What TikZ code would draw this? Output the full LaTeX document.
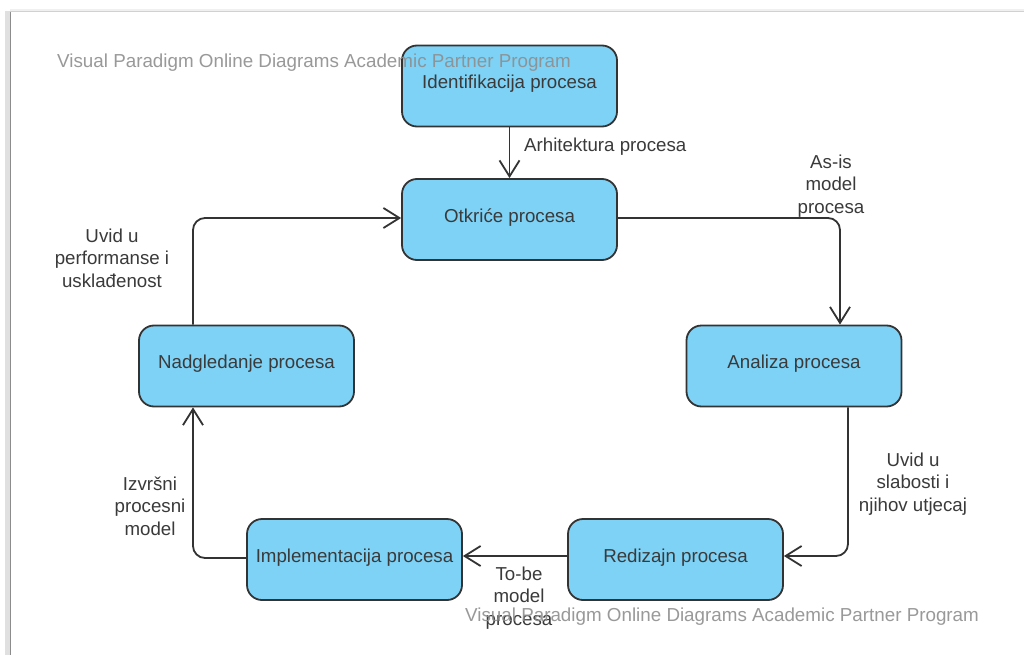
\documentclass[tikz,border=0pt]{standalone}
\usepackage{fontspec}
\setmainfont{Liberation Sans}
\usetikzlibrary{arrows.meta}
\definecolor{boxblue}{HTML}{7ED2F6}
\definecolor{edgegrey}{HTML}{333333}
\definecolor{inkgrey}{HTML}{3A3A3A}
\definecolor{markgrey}{HTML}{8E8E8E}
\tikzset{
  stepbox/.style={rectangle, rounded corners=15pt, fill=boxblue, draw=edgegrey,
    line width=1.8pt, minimum width=215pt, minimum height=81pt, inner sep=0pt,
    text=inkgrey, font=\fontsize{18.7}{22.5}\selectfont},
  flow/.style={draw=edgegrey, line width=1.8pt, rounded corners=12pt,
    -{Straight Barb[length=16pt,width=20pt,line width=1.8pt]}},
  flowlabel/.style={text=inkgrey, font=\fontsize{18.7}{22.5}\selectfont,
    align=center, inner sep=0pt},
  watermark/.style={text=markgrey, font=\fontsize{18.8}{22.5}\selectfont,
    anchor=west, inner sep=0pt, opacity=0.9}
}
\newcommand{\boxtext}[1]{\raisebox{8pt}{#1}}
\begin{document}
\begin{tikzpicture}[x=1pt,y=-1pt]
  \useasboundingbox (0,0) rectangle (1024,655);
  \fill[white] (0,0) rectangle (1024,655);
  % page frame with its soft shadow
  \fill[black!12] (5,11) rectangle (10,655);
  \fill[black!6] (10,9) rectangle (1024,11);
  \draw[black!45, line width=1.2pt] (10.5,11) -- (10.5,655);
  \draw[black!18, line width=1pt] (10,11.5) -- (1024,11.5);

  % process steps
  \node[stepbox] (ident) at (509.5,86)  {\boxtext{Identifikacija procesa}};
  \node[stepbox] (otk)   at (509.5,219.5) {\boxtext{Otkriće procesa}};
  \node[stepbox] (anal)  at (794,366)   {\boxtext{Analiza procesa}};
  \node[stepbox] (redi)  at (675.5,559.5) {\boxtext{Redizajn procesa}};
  \node[stepbox] (impl)  at (354.5,559.5) {\boxtext{Implementacija procesa}};
  \node[stepbox] (nadg)  at (246.5,366) {\boxtext{Nadgledanje procesa}};

  % cycle connectors
  \draw[flow] (ident) -- (otk);
  \draw[flow] ([yshift=1.5pt]otk.east) -| ([xshift=46pt]anal.north);
  \draw[flow] ([xshift=54pt]anal.south) |- ([yshift=3.5pt]redi.east);
  \draw[flow] ([yshift=3.5pt]redi.west) -- ([yshift=3.5pt]impl.east);
  \draw[flow] ([yshift=1.5pt]impl.west) -| ([xshift=-53.5pt]nadg.south);
  \draw[flow] ([xshift=-53.5pt]nadg.north) |- ([yshift=1.5pt]otk.west);

  % connector labels
  \node[flowlabel, anchor=west] (l1) at (524,147) {Arhitektura procesa};
  \node[flowlabel] (l2) at (831,186) {As-is\\model\\procesa};
  \node[flowlabel] (l3) at (913,484) {Uvid u\\slabosti i\\njihov utjecaj};
  \node[flowlabel] (l4) at (519,598) {To-be\\model\\procesa};
  \node[flowlabel] (l5) at (150,506) {Izvršni\\procesni\\model};
  \node[flowlabel] (l6) at (112,258) {Uvid u\\performanse i\\usklađenost};

  % watermarks
  \node[watermark] (wm1) at (57,63)  {Visual Paradigm Online Diagrams Academic Partner Program};
  \node[watermark] (wm2) at (465,617) {Visual Paradigm Online Diagrams Academic Partner Program};
\end{tikzpicture}
\end{document}
